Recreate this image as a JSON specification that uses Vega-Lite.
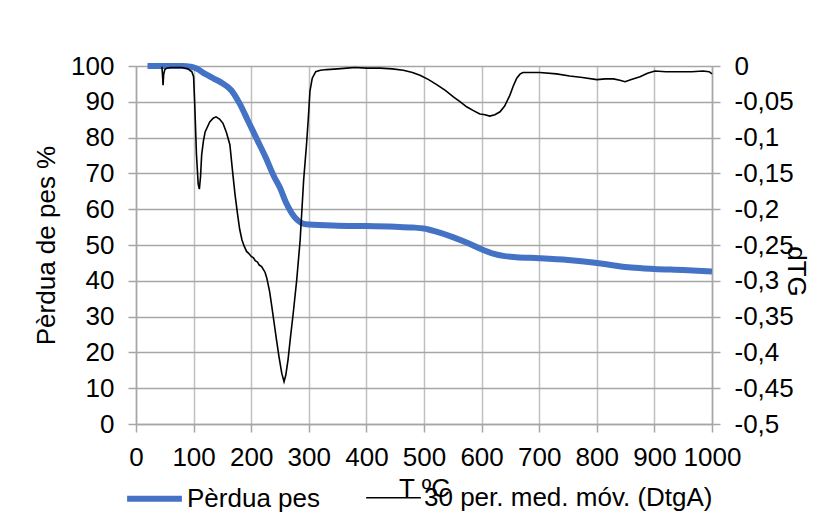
{
  "$schema": "https://vega.github.io/schema/vega-lite/v6.json",
  "width": 576,
  "height": 358,
  "autosize": {"type": "none"},
  "padding": {"left": 136, "top": 66, "right": 113, "bottom": 108},
  "background": "white",
  "config": {
    "font": "Liberation Sans",
    "view": {"stroke": null},
    "axis": {"labelFont": "Liberation Sans", "titleFont": "Liberation Sans", "labelFontSize": 26, "titleFontSize": 26, "labelColor": "#000000", "titleColor": "#000000", "titleFontWeight": "normal", "domainColor": "#A6A6A6", "tickColor": "#A6A6A6", "domainWidth": 1.5, "tickWidth": 1.5, "tickSize": 8},
    "legend": {"labelFont": "Liberation Sans", "labelFontSize": 26, "labelColor": "#000000", "labelLimit": 0}
  },
  "datasets": {
    "pes": [
      {"T": 20, "pes": 100, "serie": "Pèrdua pes"},
      {"T": 40, "pes": 100, "serie": "Pèrdua pes"},
      {"T": 60, "pes": 100, "serie": "Pèrdua pes"},
      {"T": 80, "pes": 100, "serie": "Pèrdua pes"},
      {"T": 95, "pes": 99.8, "serie": "Pèrdua pes"},
      {"T": 105, "pes": 99.3, "serie": "Pèrdua pes"},
      {"T": 120, "pes": 97.8, "serie": "Pèrdua pes"},
      {"T": 135, "pes": 96.5, "serie": "Pèrdua pes"},
      {"T": 150, "pes": 95.2, "serie": "Pèrdua pes"},
      {"T": 165, "pes": 93.3, "serie": "Pèrdua pes"},
      {"T": 180, "pes": 89.5, "serie": "Pèrdua pes"},
      {"T": 195, "pes": 84.5, "serie": "Pèrdua pes"},
      {"T": 210, "pes": 79.5, "serie": "Pèrdua pes"},
      {"T": 225, "pes": 74.5, "serie": "Pèrdua pes"},
      {"T": 240, "pes": 69, "serie": "Pèrdua pes"},
      {"T": 250, "pes": 66, "serie": "Pèrdua pes"},
      {"T": 260, "pes": 62, "serie": "Pèrdua pes"},
      {"T": 270, "pes": 59, "serie": "Pèrdua pes"},
      {"T": 280, "pes": 57, "serie": "Pèrdua pes"},
      {"T": 288, "pes": 56.1, "serie": "Pèrdua pes"},
      {"T": 300, "pes": 55.7, "serie": "Pèrdua pes"},
      {"T": 350, "pes": 55.4, "serie": "Pèrdua pes"},
      {"T": 400, "pes": 55.3, "serie": "Pèrdua pes"},
      {"T": 450, "pes": 55.1, "serie": "Pèrdua pes"},
      {"T": 480, "pes": 54.9, "serie": "Pèrdua pes"},
      {"T": 500, "pes": 54.6, "serie": "Pèrdua pes"},
      {"T": 520, "pes": 53.8, "serie": "Pèrdua pes"},
      {"T": 550, "pes": 52.2, "serie": "Pèrdua pes"},
      {"T": 575, "pes": 50.6, "serie": "Pèrdua pes"},
      {"T": 600, "pes": 48.8, "serie": "Pèrdua pes"},
      {"T": 620, "pes": 47.6, "serie": "Pèrdua pes"},
      {"T": 640, "pes": 46.9, "serie": "Pèrdua pes"},
      {"T": 660, "pes": 46.6, "serie": "Pèrdua pes"},
      {"T": 700, "pes": 46.3, "serie": "Pèrdua pes"},
      {"T": 750, "pes": 45.8, "serie": "Pèrdua pes"},
      {"T": 800, "pes": 45, "serie": "Pèrdua pes"},
      {"T": 830, "pes": 44.3, "serie": "Pèrdua pes"},
      {"T": 860, "pes": 43.7, "serie": "Pèrdua pes"},
      {"T": 900, "pes": 43.3, "serie": "Pèrdua pes"},
      {"T": 950, "pes": 43, "serie": "Pèrdua pes"},
      {"T": 1000, "pes": 42.6, "serie": "Pèrdua pes"}
    ],
    "dtg": [
      {"T": 45, "dtg": -0.001, "serie": "30 per. med. móv. (DtgA)"},
      {"T": 46, "dtg": -0.012, "serie": "30 per. med. móv. (DtgA)"},
      {"T": 47, "dtg": -0.027, "serie": "30 per. med. móv. (DtgA)"},
      {"T": 48, "dtg": -0.012, "serie": "30 per. med. móv. (DtgA)"},
      {"T": 50, "dtg": -0.005, "serie": "30 per. med. móv. (DtgA)"},
      {"T": 53, "dtg": -0.003, "serie": "30 per. med. móv. (DtgA)"},
      {"T": 60, "dtg": -0.002, "serie": "30 per. med. móv. (DtgA)"},
      {"T": 70, "dtg": -0.002, "serie": "30 per. med. móv. (DtgA)"},
      {"T": 80, "dtg": -0.002, "serie": "30 per. med. móv. (DtgA)"},
      {"T": 90, "dtg": -0.004, "serie": "30 per. med. móv. (DtgA)"},
      {"T": 97, "dtg": -0.008, "serie": "30 per. med. móv. (DtgA)"},
      {"T": 100, "dtg": -0.015, "serie": "30 per. med. móv. (DtgA)"},
      {"T": 102, "dtg": -0.054, "serie": "30 per. med. móv. (DtgA)"},
      {"T": 105, "dtg": -0.124, "serie": "30 per. med. móv. (DtgA)"},
      {"T": 108, "dtg": -0.165, "serie": "30 per. med. móv. (DtgA)"},
      {"T": 110, "dtg": -0.172, "serie": "30 per. med. móv. (DtgA)"},
      {"T": 112, "dtg": -0.155, "serie": "30 per. med. móv. (DtgA)"},
      {"T": 114, "dtg": -0.124, "serie": "30 per. med. móv. (DtgA)"},
      {"T": 117, "dtg": -0.105, "serie": "30 per. med. móv. (DtgA)"},
      {"T": 120, "dtg": -0.092, "serie": "30 per. med. móv. (DtgA)"},
      {"T": 128, "dtg": -0.078, "serie": "30 per. med. móv. (DtgA)"},
      {"T": 134, "dtg": -0.073, "serie": "30 per. med. móv. (DtgA)"},
      {"T": 139, "dtg": -0.071, "serie": "30 per. med. móv. (DtgA)"},
      {"T": 145, "dtg": -0.074, "serie": "30 per. med. móv. (DtgA)"},
      {"T": 151, "dtg": -0.08, "serie": "30 per. med. móv. (DtgA)"},
      {"T": 157, "dtg": -0.093, "serie": "30 per. med. móv. (DtgA)"},
      {"T": 163, "dtg": -0.11, "serie": "30 per. med. móv. (DtgA)"},
      {"T": 168, "dtg": -0.15, "serie": "30 per. med. móv. (DtgA)"},
      {"T": 172, "dtg": -0.18, "serie": "30 per. med. móv. (DtgA)"},
      {"T": 176, "dtg": -0.205, "serie": "30 per. med. móv. (DtgA)"},
      {"T": 180, "dtg": -0.228, "serie": "30 per. med. móv. (DtgA)"},
      {"T": 184, "dtg": -0.243, "serie": "30 per. med. móv. (DtgA)"},
      {"T": 188, "dtg": -0.252, "serie": "30 per. med. móv. (DtgA)"},
      {"T": 192, "dtg": -0.259, "serie": "30 per. med. móv. (DtgA)"},
      {"T": 196, "dtg": -0.262, "serie": "30 per. med. móv. (DtgA)"},
      {"T": 200, "dtg": -0.266, "serie": "30 per. med. móv. (DtgA)"},
      {"T": 204, "dtg": -0.268, "serie": "30 per. med. móv. (DtgA)"},
      {"T": 207, "dtg": -0.272, "serie": "30 per. med. móv. (DtgA)"},
      {"T": 211, "dtg": -0.274, "serie": "30 per. med. móv. (DtgA)"},
      {"T": 214, "dtg": -0.278, "serie": "30 per. med. móv. (DtgA)"},
      {"T": 218, "dtg": -0.28, "serie": "30 per. med. móv. (DtgA)"},
      {"T": 221, "dtg": -0.284, "serie": "30 per. med. móv. (DtgA)"},
      {"T": 224, "dtg": -0.288, "serie": "30 per. med. móv. (DtgA)"},
      {"T": 227, "dtg": -0.296, "serie": "30 per. med. móv. (DtgA)"},
      {"T": 232, "dtg": -0.315, "serie": "30 per. med. móv. (DtgA)"},
      {"T": 236, "dtg": -0.337, "serie": "30 per. med. móv. (DtgA)"},
      {"T": 240, "dtg": -0.36, "serie": "30 per. med. móv. (DtgA)"},
      {"T": 244, "dtg": -0.383, "serie": "30 per. med. móv. (DtgA)"},
      {"T": 248, "dtg": -0.405, "serie": "30 per. med. móv. (DtgA)"},
      {"T": 253, "dtg": -0.429, "serie": "30 per. med. móv. (DtgA)"},
      {"T": 257, "dtg": -0.441, "serie": "30 per. med. móv. (DtgA)"},
      {"T": 260, "dtg": -0.432, "serie": "30 per. med. móv. (DtgA)"},
      {"T": 264, "dtg": -0.41, "serie": "30 per. med. móv. (DtgA)"},
      {"T": 268, "dtg": -0.38, "serie": "30 per. med. móv. (DtgA)"},
      {"T": 273, "dtg": -0.345, "serie": "30 per. med. móv. (DtgA)"},
      {"T": 279, "dtg": -0.299, "serie": "30 per. med. móv. (DtgA)"},
      {"T": 285, "dtg": -0.243, "serie": "30 per. med. móv. (DtgA)"},
      {"T": 291, "dtg": -0.16, "serie": "30 per. med. móv. (DtgA)"},
      {"T": 296, "dtg": -0.11, "serie": "30 per. med. móv. (DtgA)"},
      {"T": 299, "dtg": -0.075, "serie": "30 per. med. móv. (DtgA)"},
      {"T": 302, "dtg": -0.035, "serie": "30 per. med. móv. (DtgA)"},
      {"T": 306, "dtg": -0.017, "serie": "30 per. med. móv. (DtgA)"},
      {"T": 312, "dtg": -0.008, "serie": "30 per. med. móv. (DtgA)"},
      {"T": 320, "dtg": -0.006, "serie": "30 per. med. móv. (DtgA)"},
      {"T": 331, "dtg": -0.005, "serie": "30 per. med. móv. (DtgA)"},
      {"T": 350, "dtg": -0.004, "serie": "30 per. med. móv. (DtgA)"},
      {"T": 366, "dtg": -0.003, "serie": "30 per. med. móv. (DtgA)"},
      {"T": 380, "dtg": -0.002, "serie": "30 per. med. móv. (DtgA)"},
      {"T": 400, "dtg": -0.003, "serie": "30 per. med. móv. (DtgA)"},
      {"T": 424, "dtg": -0.003, "serie": "30 per. med. móv. (DtgA)"},
      {"T": 445, "dtg": -0.004, "serie": "30 per. med. móv. (DtgA)"},
      {"T": 464, "dtg": -0.006, "serie": "30 per. med. móv. (DtgA)"},
      {"T": 480, "dtg": -0.009, "serie": "30 per. med. móv. (DtgA)"},
      {"T": 493, "dtg": -0.013, "serie": "30 per. med. móv. (DtgA)"},
      {"T": 508, "dtg": -0.019, "serie": "30 per. med. móv. (DtgA)"},
      {"T": 522, "dtg": -0.026, "serie": "30 per. med. móv. (DtgA)"},
      {"T": 537, "dtg": -0.034, "serie": "30 per. med. móv. (DtgA)"},
      {"T": 551, "dtg": -0.043, "serie": "30 per. med. móv. (DtgA)"},
      {"T": 563, "dtg": -0.05, "serie": "30 per. med. móv. (DtgA)"},
      {"T": 574, "dtg": -0.057, "serie": "30 per. med. móv. (DtgA)"},
      {"T": 585, "dtg": -0.062, "serie": "30 per. med. móv. (DtgA)"},
      {"T": 597, "dtg": -0.067, "serie": "30 per. med. móv. (DtgA)"},
      {"T": 606, "dtg": -0.068, "serie": "30 per. med. móv. (DtgA)"},
      {"T": 614, "dtg": -0.07, "serie": "30 per. med. móv. (DtgA)"},
      {"T": 623, "dtg": -0.068, "serie": "30 per. med. móv. (DtgA)"},
      {"T": 632, "dtg": -0.064, "serie": "30 per. med. móv. (DtgA)"},
      {"T": 640, "dtg": -0.056, "serie": "30 per. med. móv. (DtgA)"},
      {"T": 649, "dtg": -0.041, "serie": "30 per. med. móv. (DtgA)"},
      {"T": 655, "dtg": -0.028, "serie": "30 per. med. móv. (DtgA)"},
      {"T": 661, "dtg": -0.017, "serie": "30 per. med. móv. (DtgA)"},
      {"T": 667, "dtg": -0.011, "serie": "30 per. med. móv. (DtgA)"},
      {"T": 672, "dtg": -0.009, "serie": "30 per. med. móv. (DtgA)"},
      {"T": 701, "dtg": -0.009, "serie": "30 per. med. móv. (DtgA)"},
      {"T": 730, "dtg": -0.011, "serie": "30 per. med. móv. (DtgA)"},
      {"T": 753, "dtg": -0.014, "serie": "30 per. med. móv. (DtgA)"},
      {"T": 775, "dtg": -0.016, "serie": "30 per. med. móv. (DtgA)"},
      {"T": 800, "dtg": -0.019, "serie": "30 per. med. móv. (DtgA)"},
      {"T": 815, "dtg": -0.018, "serie": "30 per. med. móv. (DtgA)"},
      {"T": 829, "dtg": -0.018, "serie": "30 per. med. móv. (DtgA)"},
      {"T": 840, "dtg": -0.02, "serie": "30 per. med. móv. (DtgA)"},
      {"T": 849, "dtg": -0.022, "serie": "30 per. med. móv. (DtgA)"},
      {"T": 860, "dtg": -0.019, "serie": "30 per. med. móv. (DtgA)"},
      {"T": 875, "dtg": -0.015, "serie": "30 per. med. móv. (DtgA)"},
      {"T": 888, "dtg": -0.01, "serie": "30 per. med. móv. (DtgA)"},
      {"T": 901, "dtg": -0.007, "serie": "30 per. med. móv. (DtgA)"},
      {"T": 920, "dtg": -0.008, "serie": "30 per. med. móv. (DtgA)"},
      {"T": 944, "dtg": -0.008, "serie": "30 per. med. móv. (DtgA)"},
      {"T": 965, "dtg": -0.008, "serie": "30 per. med. móv. (DtgA)"},
      {"T": 984, "dtg": -0.007, "serie": "30 per. med. móv. (DtgA)"},
      {"T": 995, "dtg": -0.008, "serie": "30 per. med. móv. (DtgA)"},
      {"T": 1000, "dtg": -0.011, "serie": "30 per. med. móv. (DtgA)"}
    ]
  },
  "layer": [
    {
      "data": {"name": "pes"},
      "mark": {"type": "line", "interpolate": "monotone", "strokeCap": "butt"},
      "encoding": {
        "x": {"field": "T", "type": "quantitative", "scale": {"domain": [0, 1000], "nice": false},
          "axis": {"title": "T ºC", "values": [0,50,100,150,200,250,300,350,400,450,500,550,600,650,700,750,800,850,900,950,1000],
            "labelExpr": "datum.value % 100 === 0 ? '' + datum.value : ''", "labelPadding": 12, "labelFlush": false, "labelOverlap": false,
            "grid": true, "gridColor": "#C0C0C0", "gridWidth": 1.5, "titleY": 64, "titleBaseline": "middle", "titleX": 288}},
        "y": {"field": "pes", "type": "quantitative", "scale": {"domain": [0, 100], "nice": false},
          "axis": {"title": "Pèrdua de pes %", "values": [0,10,20,30,40,50,60,70,80,90,100], "labelPadding": 14,
            "grid": true, "gridColor": "#A6A6A6", "gridWidth": 1.5, "titleX": -90, "titleY": 179, "titleAlign": "center", "titleBaseline": "middle", "titleAngle": -90}},
        "color": {"field": "serie", "type": "nominal",
          "scale": {"domain": ["Pèrdua pes", "30 per. med. móv. (DtgA)"], "range": ["#4472C4", "#000000"]},
          "legend": {"title": null, "orient": "none", "direction": "horizontal", "legendX": -12, "legendY": 402,
            "symbolType": "stroke", "symbolSize": 3000, "columnPadding": 42, "labelOffset": 2, "labelLimit": 0}},
        "strokeWidth": {"field": "serie", "type": "nominal",
          "scale": {"domain": ["Pèrdua pes", "30 per. med. móv. (DtgA)"], "range": [6, 1.6]},
          "legend": {"title": null, "orient": "none", "direction": "horizontal", "legendX": -12, "legendY": 402,
            "symbolType": "stroke", "symbolSize": 3000, "columnPadding": 42, "labelOffset": 2, "labelLimit": 0}}
      }
    },
    {
      "data": {"name": "dtg"},
      "mark": {"type": "line", "interpolate": "linear"},
      "encoding": {
        "x": {"field": "T", "type": "quantitative"},
        "y": {"field": "dtg", "type": "quantitative", "scale": {"domain": [-0.5, 0], "nice": false},
          "axis": {"orient": "right", "title": "dTG", "values": [-0.5,-0.45,-0.4,-0.35,-0.3,-0.25,-0.2,-0.15,-0.1,-0.05,0],
            "labelExpr": "replace('' + datum.value, '.', ',')", "labelPadding": 14, "grid": false,
            "titleX": 83, "titleY": 205, "titleAngle": 90, "titleAlign": "center", "titleBaseline": "middle"}},
        "color": {"field": "serie", "type": "nominal"},
        "strokeWidth": {"field": "serie", "type": "nominal"}
      }
    }
  ],
  "resolve": {"scale": {"y": "independent"}}
}
